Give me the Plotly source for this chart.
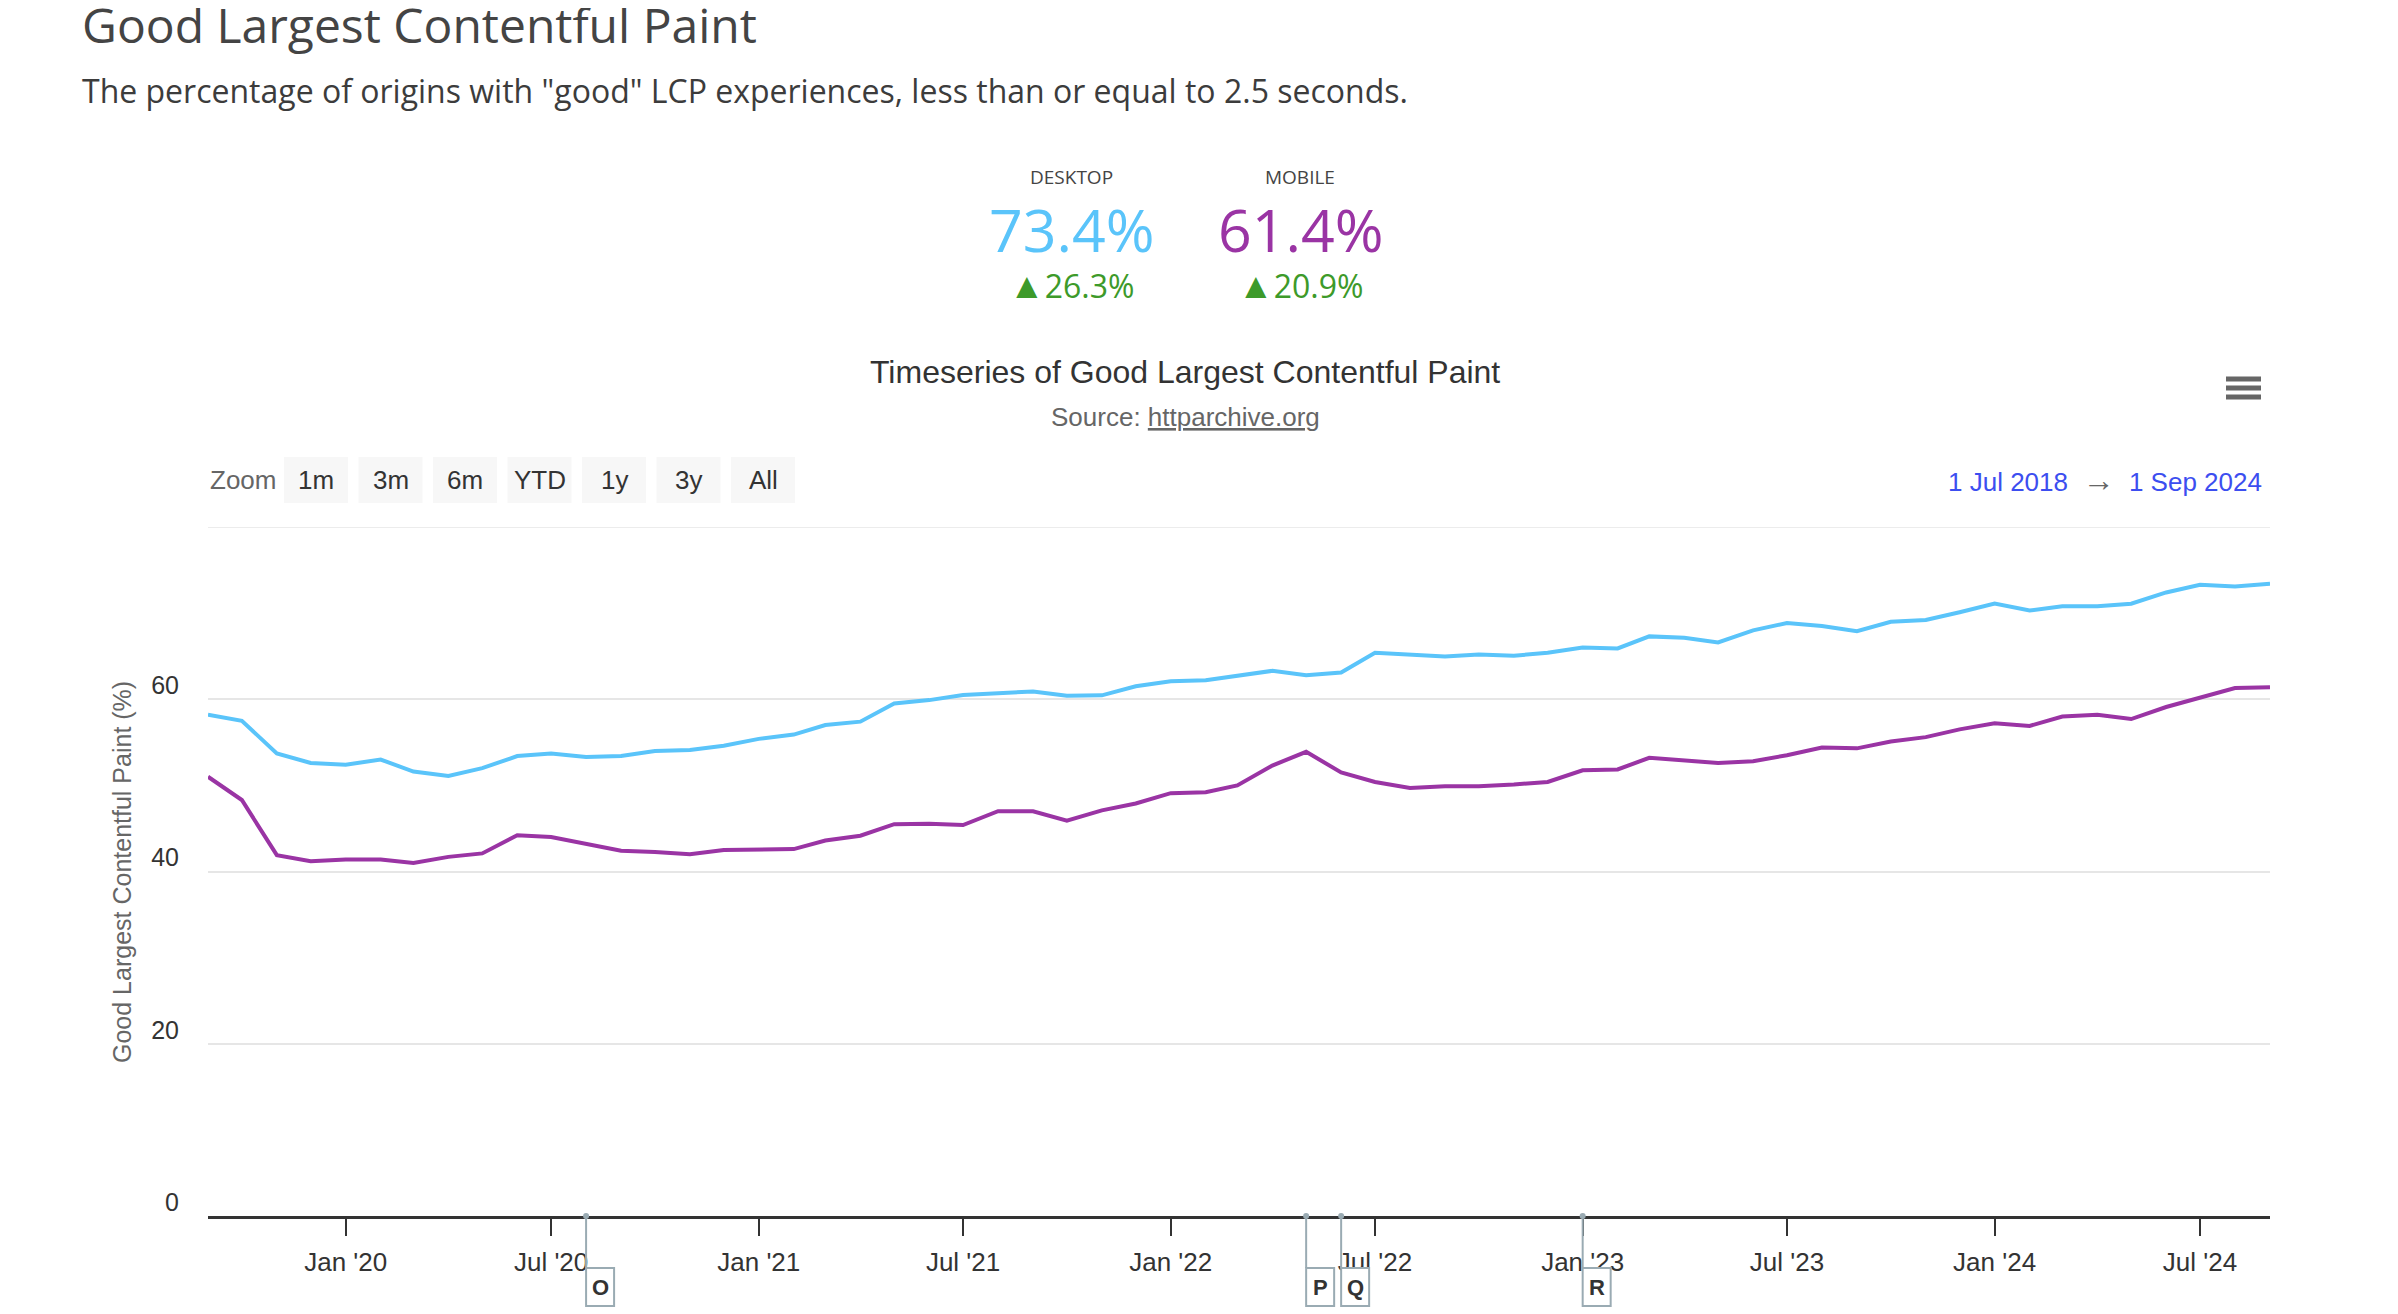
import pandas as pd
import plotly.graph_objects as go

# monthly CrUX values, Sep 2019 .. Sep 2024
months = pd.date_range("2019-09-01", "2024-09-01", freq="MS")

desktop = [58.2, 57.5, 53.7, 52.6, 52.4, 53.0, 51.6, 51.1, 52.0, 53.4,
           53.7, 53.3, 53.4, 54.0, 54.1, 54.6, 55.4, 55.9, 57.0, 57.4,
           59.5, 59.9, 60.5, 60.75, 60.9, 60.4, 60.45, 61.5, 62.1, 62.2,
           62.7, 63.3, 62.8, 63.1, 65.4, 65.2, 64.95, 65.2, 65.05, 65.4,
           66.0, 65.9, 67.3, 67.15, 66.6, 68.0, 68.85, 68.5, 67.9, 69.0,
           69.2, 70.1, 71.1, 70.3, 70.8, 70.8, 71.1, 72.4, 73.3, 73.1,
           73.4]

mobile = [51.0, 48.3, 41.9, 41.2, 41.4, 41.4, 41.0, 41.7, 42.1, 44.2,
          44.0, 43.2, 42.4, 42.25, 42.0, 42.5, 42.6, 42.6, 43.6, 44.15,
          45.5, 45.55, 45.4, 47.0, 47.0, 45.9, 47.1, 47.9, 49.1, 49.2,
          50.0, 52.3, 53.9, 51.5, 50.4, 49.7, 49.9, 49.9, 50.1, 50.4,
          51.75, 51.85, 53.2, 52.9, 52.6, 52.8, 53.5, 54.4, 54.3, 55.1,
          55.6, 56.5, 57.2, 56.9, 58.0, 58.2, 57.7, 59.1, 60.2, 61.3,
          61.4]

flag_labels = ["O", "P", "Q", "R"]
flag_dates = ["2020-08-01", "2022-05-01", "2022-06-01", "2023-01-01"]

kpi_names = ["DESKTOP", "MOBILE"]
kpi_values = ["73.4%", "61.4%"]
kpi_deltas = ["26.3%", "20.9%"]

zoom_buttons = ["1m", "3m", "6m", "YTD", "1y", "3y", "All"]

y_ticks = [0, 20, 40, 60, 80]
y_ticktext = ["0", "20", "40", "60", ""]   # top label hidden like highcharts

DESK = "#5ac4fa"
MOB = "#9a34a4"
FLAG = "#9aabb3"
BLUE = "#3c4ef0"

W, H = 2398, 1314
L, R, T, B = 200, 2262, 519, 1208   # plot area in page pixels


def px(x):
    return (x - L) / (R - L)


def py(y):
    return (B - y) / (B - T)


fig = go.Figure()
fig.add_trace(go.Scatter(x=months, y=desktop, mode="lines", name="Desktop",
                         line=dict(color=DESK, width=4)))
fig.add_trace(go.Scatter(x=months, y=mobile, mode="lines", name="Mobile",
                         line=dict(color=MOB, width=4)))

ann = []
shapes = []

# page header
ann.append(dict(x=px(72), y=py(16), text="Good Largest Contentful Paint",
                xanchor="left", font=dict(family="Open Sans", size=48, color="#444")))
ann.append(dict(x=px(72), y=py(83),
                text='The percentage of origins with "good" LCP experiences, less than or equal to 2.5 seconds.',
                xanchor="left", font=dict(family="Open Sans", size=32, color="#3c3c3c")))

# KPI block
for i, (nm, val, dl) in enumerate(zip(kpi_names, kpi_values, kpi_deltas)):
    cx = 1063 + i * 229
    col = DESK if i == 0 else MOB
    ann.append(dict(x=px(cx), y=py(169), text=nm,
                    font=dict(family="Open Sans", size=19, color="#444")))
    ann.append(dict(x=px(cx), y=py(221), text=val,
                    font=dict(family="Open Sans", size=59, color=col)))
    ann.append(dict(x=px(cx), y=py(277),
                    text="<span style='font-size:36px'>▲</span>" + dl,
                    font=dict(family="Open Sans", size=32, color="#3d9a2a")))

# chart title / source
ann.append(dict(x=px(1177), y=py(364), text="Timeseries of Good Largest Contentful Paint",
                font=dict(family="Liberation Sans", size=32, color="#333")))
ann.append(dict(x=px(1177), y=py(409), text="Source: <u>httparchive.org</u>",
                font=dict(family="Liberation Sans", size=26, color="#666")))

# hamburger menu
for k in range(3):
    yy = 371 + k * 9
    shapes.append(dict(type="line", xref="paper", yref="paper",
                       x0=px(2218), x1=px(2253), y0=py(yy), y1=py(yy),
                       line=dict(color="#666", width=5)))

# range selector
ann.append(dict(x=px(200), y=py(472), text="Zoom", xanchor="left",
                font=dict(family="Liberation Sans", size=26, color="#666")))
for i, lab in enumerate(zoom_buttons):
    x0 = 276 + i * 74.5
    shapes.append(dict(type="rect", xref="paper", yref="paper",
                       x0=px(x0), x1=px(x0 + 64), y0=py(495), y1=py(449),
                       fillcolor="#f7f7f7", line=dict(width=0), layer="below"))
    ann.append(dict(x=px(x0 + 32), y=py(472), text=lab,
                    font=dict(family="Liberation Sans", size=26, color="#333")))

ann.append(dict(x=px(2256), y=py(472), xanchor="right",
                text="<span style='color:" + BLUE + "'>1 Jul 2018</span>  "
                     "<span style='font-size:32px'>→</span>  "
                     "<span style='color:" + BLUE + "'>1 Sep 2024</span>",
                font=dict(family="Liberation Sans", size=26, color="#666")))

# y axis title
ann.append(dict(x=px(114), y=py(864), text="Good Largest Contentful Paint (%)",
                textangle=-90, font=dict(family="Liberation Sans", size=25, color="#666")))

# top grid line (range end)
shapes.append(dict(type="line", xref="paper", yref="y", x0=0, x1=1, y0=80, y1=80,
                   line=dict(color="#e6e6e6", width=1.5), layer="below"))

# flags below the x axis
for lab, d in zip(flag_labels, flag_dates):
    shapes.append(dict(type="line", xref="x", yref="paper", x0=d, x1=d,
                       ysizemode="pixel", yanchor=0, y0=0, y1=-52,
                       line=dict(color=FLAG, width=2)))
    shapes.append(dict(type="circle", xref="x", yref="paper",
                       xsizemode="pixel", xanchor=d, x0=-3, x1=3,
                       ysizemode="pixel", yanchor=0, y0=-3, y1=3,
                       fillcolor=FLAG, line=dict(width=0)))
    shapes.append(dict(type="rect", xref="x", yref="paper",
                       xsizemode="pixel", xanchor=d, x0=0, x1=28,
                       ysizemode="pixel", yanchor=0, y0=-52, y1=-90,
                       fillcolor="white", line=dict(color=FLAG, width=2)))
    ann.append(dict(x=d, xref="x", y=0, yref="paper", xshift=14, yshift=-71,
                    text="<b>" + lab + "</b>", showarrow=False,
                    font=dict(family="Liberation Sans", size=22, color="#333")))

for a in ann:
    a.setdefault("xref", "paper")
    a.setdefault("yref", "paper")
    a.setdefault("showarrow", False)
    a.setdefault("xanchor", "center")
    a.setdefault("yanchor", "middle")

fig.update_layout(
    width=W, height=H,
    margin=dict(l=L, r=W - R, t=T, b=H - B, pad=0),
    paper_bgcolor="white", plot_bgcolor="white",
    showlegend=False, hovermode=False,
    annotations=ann, shapes=shapes,
    font=dict(family="Liberation Sans", color="#333"),
)
fig.update_xaxes(
    range=["2019-09-01", "2024-09-01"], type="date",
    tick0="2020-01-01", dtick="M6", tickformat="%b '%y",
    showgrid=False, zeroline=False,
    showline=True, linecolor="#333", linewidth=2.5,
    ticks="outside", ticklen=17, tickwidth=1.5, tickcolor="#333",
    ticklabelstandoff=4,
    tickfont=dict(family="Liberation Sans", size=26, color="#333"),
)
fig.update_yaxes(
    range=[0, 80], tickvals=y_ticks, ticktext=y_ticktext,
    showgrid=True, gridcolor="#e6e6e6", gridwidth=1.5,
    zeroline=False, showline=False, ticks="",
    ticklabelshift=-14, ticklabelstandoff=28,
    tickfont=dict(family="Liberation Sans", size=25, color="#333"),
)

fig.write_html("out.html", config={"displayModeBar": False})
